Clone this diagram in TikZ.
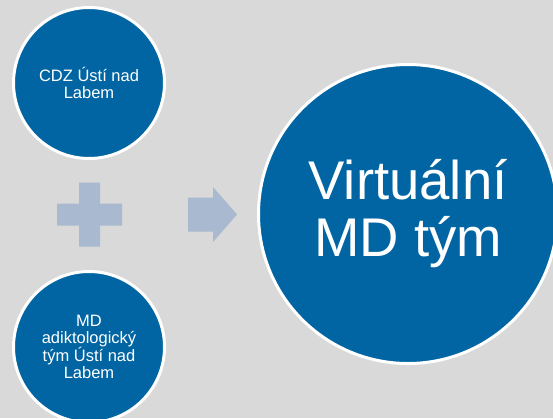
\documentclass[tikz,border=0pt]{standalone}
\usepackage{fontspec}
\setmainfont{Liberation Sans}
\usetikzlibrary{positioning}
\definecolor{bubbleblue}{RGB}{0,101,162}
\definecolor{slidegray}{RGB}{217,217,217}
\definecolor{signblue}{RGB}{169,185,208}
\tikzset{
  bubble/.style={circle,fill=bubbleblue,draw=white,line width=3pt,text=white,align=center,inner sep=0pt},
  smallbubble/.style={bubble,minimum size=151pt,font=\fontsize{16.5}{17}\selectfont},
  bigbubble/.style={bubble,minimum size=299pt,font=\fontsize{54.5}{57}\selectfont},
  sign/.style={fill=signblue,draw=none}
}
\begin{document}
\begin{tikzpicture}[x=1pt,y=-1pt]
\fill[slidegray] (0,0) rectangle (553,418);
\useasboundingbox (0,0) rectangle (553,418);
\clip (0,0) rectangle (553,418);
\node[smallbubble](cdz) at (89,83){CDZ Ústí nad\\Labem};
\node[smallbubble](mdtym) at (89,347){MD\\adiktologický\\tým Ústí nad\\Labem};
\node[bigbubble](virtual) at (408,214){Virtuální\\MD tým};
\coordinate (plus) at (89.5,214.5);
\coordinate (arrow) at (188,214.5);
% plus sign between the two teams
\fill[sign,shift={(plus)}] (-10.5,-32) -- (10.5,-32) -- (10.5,-11) -- (32.5,-11) -- (32.5,11) -- (10.5,11)
  -- (10.5,32) -- (-10.5,32) -- (-10.5,11) -- (-32.5,11) -- (-32.5,-11) -- (-10.5,-11) -- cycle;
% arrow towards the virtual team
\fill[sign,shift={(arrow)}] (0,-17) -- (25,-17) -- (25,-27.5) -- (49,0) -- (25,27.5) -- (25,17) -- (0,17) -- cycle;
\end{tikzpicture}
\end{document}
